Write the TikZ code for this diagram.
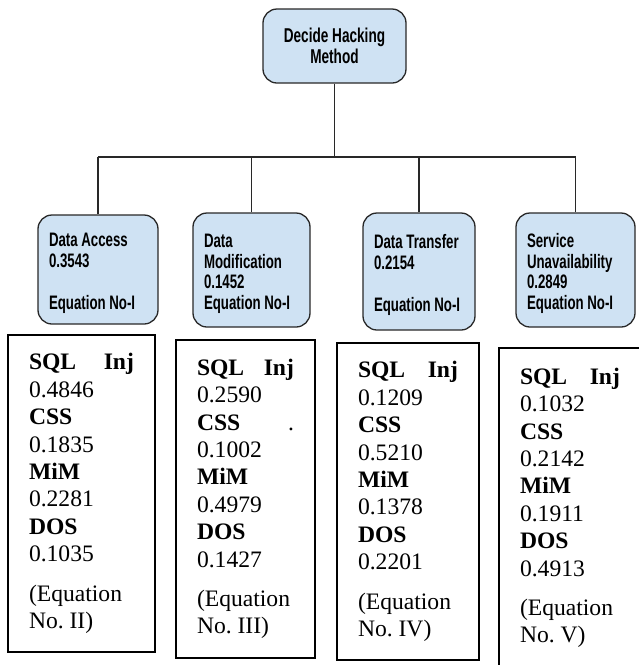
\documentclass[tikz,border=0pt]{standalone}
\usepackage{fontspec}
\setmainfont{Liberation Serif}
\newfontfamily\boxfont[FakeStretch=0.68]{Liberation Sans}
\definecolor{boxblue}{RGB}{207,226,243}
\definecolor{boxline}{RGB}{40,40,40}
\newcommand\topgap{\rule{0pt}{21pt}}
\begin{document}
\begin{tikzpicture}[x=1pt, y=-1pt,
    goal/.style={draw=boxline, line width=1.3pt, rounded corners=14pt, fill=boxblue,
                 inner sep=0pt, align=center, font=\boxfont\bfseries\fontsize{20}{20.5}\selectfont},
    crit/.style={draw=boxline, line width=1.3pt, rounded corners=14pt, fill=boxblue,
                 inner xsep=11pt, inner ysep=0pt, align=flush left,
                 font=\boxfont\bfseries\fontsize{19.5}{20.7}\selectfont},
    weights/.style={draw, line width=1.6pt, inner xsep=21pt, inner ysep=0pt, align=flush left,
                 font=\fontsize{23.6}{27.4}\selectfont},
    link/.style={draw=boxline, line width=1.3pt}]
    \useasboundingbox (0,0) rectangle (639,665);
    \clip (0,0) rectangle (639,665);
    \node[goal, minimum width=143, minimum height=74] (method) at (334.5,46) {Decide Hacking\\Method};
    \node[crit, text width=98, minimum height=109] (access)   at (98,269.5)  {\topgap Data Access\\0.3543\\~\\Equation No-I};
    \node[crit, text width=95, minimum height=114] (modif)    at (251.5,270) {\topgap Data\\Modification\\0.1452\\Equation No-I};
    \node[crit, text width=90, minimum height=117] (transfer) at (419,271.5) {\topgap Data Transfer\\0.2154\\~\\Equation No-I};
    \node[crit, text width=97, minimum height=114] (service)  at (575.5,270) {\topgap Service\\Unavailability\\0.2849\\Equation No-I};
    \node[weights, text width=105, minimum height=317] (wacc)   at (81.5,493.5) {\textbf{SQL\hfill Inj}\\0.4846\\\textbf{CSS}\\0.1835\\\textbf{MiM}\\0.2281\\\textbf{DOS}\\0.1035\\[12pt](Equation\\No.\ II)};
    \node[weights, text width=97,  minimum height=318] (wmod)   at (245.5,499) {\textbf{SQL\hfill Inj}\\0.2590\\\textbf{CSS}\hfill.\\0.1002\\\textbf{MiM}\\0.4979\\\textbf{DOS}\\0.1427\\[12pt](Equation\\No.\ III)};
    \node[weights, text width=100, minimum height=317] (wtrans) at (408,501.5) {\textbf{SQL\hfill Inj}\\0.1209\\\textbf{CSS}\\0.5210\\\textbf{MiM}\\0.1378\\\textbf{DOS}\\0.2201\\[12pt](Equation\\No.\ IV)};
    \node[weights, text width=100, minimum height=320] (wserv)  at (570,508)   {\textbf{SQL\hfill Inj}\\0.1032\\\textbf{CSS}\\0.2142\\\textbf{MiM}\\0.1911\\\textbf{DOS}\\0.4913\\[12pt](Equation\\No.\ V)};
    \coordinate (bar) at (335,157);
    \draw[link] (method.south) -- (method.south |- bar);
    \draw[link] (access.north |- bar) -- (service.north |- bar);
    \foreach \c in {access, modif, transfer, service}
        \draw[link] (\c.north) -- (\c.north |- bar);
\end{tikzpicture}
\end{document}
